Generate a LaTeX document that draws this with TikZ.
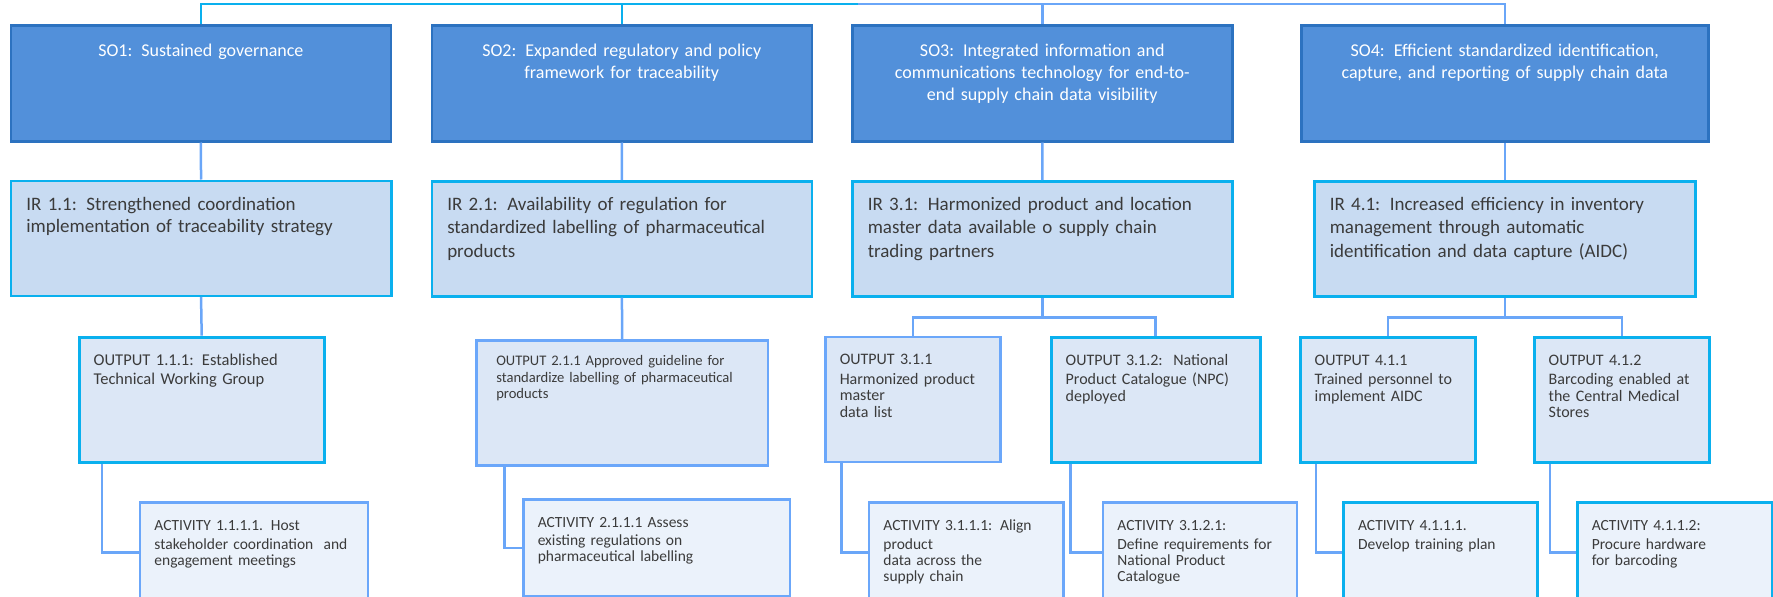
\documentclass[tikz,border=0pt]{standalone}
\usepackage{fontspec}
\setmainfont{Carlito}
\usepackage{tikz}
\usetikzlibrary{arrows.meta, positioning, calc}

\definecolor{sofill}{HTML}{5290DA}
\definecolor{soedge}{HTML}{2C72C0}
\definecolor{irfill}{HTML}{C8DBF2}
\definecolor{outfill}{HTML}{DCE7F6}
\definecolor{actfill}{HTML}{EBF2FB}
\definecolor{cyanedge}{HTML}{0AB0EE}
\definecolor{paleedge}{HTML}{6BA7FA}
\definecolor{linkblue}{HTML}{6AA6F8}
\definecolor{txtgray}{HTML}{3B3B3B}

\begin{document}
\begin{tikzpicture}[x=1pt, y=-1pt,
        sobox/.style={draw=soedge, fill=sofill, line width=2.5pt, text=white, align=center,
            anchor=north west, inner xsep=12pt, inner ysep=0pt, text height=31pt, text depth=85pt,
            font=\fontsize{18}{22}\selectfont},
        irbox/.style={draw=cyanedge, fill=irfill, line width=2.5pt, text=txtgray, align=left,
            anchor=north west, inner xsep=15.5pt, inner ysep=0pt, text height=29.5pt, text depth=85.5pt,
            font=\fontsize{19}{22.5}\selectfont},
        outbox/.style={draw=cyanedge, fill=outfill, line width=3pt, text=txtgray, align=left,
            anchor=north west, inner xsep=14.5pt, inner ysep=0pt, text height=28pt, text depth=97pt,
            font=\fontsize{16}{16.5}\selectfont},
        actbox/.style={draw=paleedge, fill=actfill, line width=2.5pt, text=txtgray, align=left,
            anchor=north west, inner xsep=14.5pt, inner ysep=0pt, text height=28pt, text depth=72pt,
            font=\fontsize{15.5}{16.2}\selectfont},
        link/.style={draw=linkblue, line width=2.5pt}]
    \useasboundingbox (0,0) rectangle (1773,597);
    % strategic objectives
    \node[sobox, text width=356pt] (so1) at (9.6,24) {SO1: Sustained governance};
    \node[sobox, text width=356pt] (so2) at (430.5,24) {SO2: Expanded regulatory and policy\\framework for traceability};
    \node[sobox, text width=356pt] (so3) at (851,24) {SO3: Integrated information and\\communications technology for end-to-\\end supply chain data visibility};
    \node[sobox, text width=383pt] (so4) at (1300,24) {SO4: Efficient standardized identification,\\capture, and reporting of supply chain data};
    % intermediate results
    \node[irbox, text width=349.4pt] (ir1) at (9.6,179.5) {IR 1.1: Strengthened coordination\\implementation of traceability strategy};
    \node[irbox, text width=349.4pt] (ir2) at (430.5,180) {IR 2.1: Availability of regulation for\\standardized labelling of pharmaceutical\\[2pt]products};
    \node[irbox, text width=349.4pt] (ir3) at (851,180) {IR 3.1: Harmonized product and location\\master data available o supply chain\\[2pt]trading partners};
    \node[irbox, text width=350pt] (ir4) at (1313,180) {IR 4.1: Increased efficiency in inventory\\management through automatic\\[2pt]identification and data capture (AIDC)};
    % outputs
    \node[outbox, text width=216pt, font=\fontsize{16.5}{17}\selectfont] (o111) at (77.7,335.7) {OUTPUT 1.1.1: Established\\[2.5pt]Technical Working Group};
    \node[outbox, draw=paleedge, line width=2.5pt, text width=251.7pt, inner xsep=20pt,
        text height=25.5pt, text depth=99.5pt, font=\fontsize{14.6}{16.5}\selectfont] (o211) at (475,339)
        {OUTPUT 2.1.1 Approved guideline for\\standardize labelling of pharmaceutical\\products};
    \node[outbox, draw=paleedge, line width=2.5pt, text width=146.3pt] (o311) at (824,335.7) {OUTPUT 3.1.1\\[3pt]Harmonized product\\master\\data list};
    \node[outbox, text width=180pt] (o312) at (1049.7,335.7) {OUTPUT 3.1.2:\ \ National\\[3pt]Product Catalogue (NPC)\\deployed};
    \node[outbox, text width=146.3pt] (o411) at (1298.7,335.7) {OUTPUT 4.1.1\\[3pt]Trained personnel to\\implement AIDC};
    \node[outbox, text width=146.3pt] (o412) at (1532.7,335.7) {OUTPUT 4.1.2\\[3pt]Barcoding enabled at\\the Central Medical\\Stores};
    % activities
    \node[actbox, text width=199pt] (a1111) at (138.7,501) {ACTIVITY 1.1.1.1. Host\\[3pt]stakeholder coordination\ \ and\\engagement meetings};
    \node[actbox, text width=237.6pt, text height=28pt, text depth=69pt] (a2111) at (522,498) {ACTIVITY 2.1.1.1 Assess\\[2pt]existing regulations on\\pharmaceutical labelling};
    \node[actbox, text width=165.3pt] (a3111) at (867.7,501) {ACTIVITY 3.1.1.1: Align\\[3pt]product\\data across the\\supply chain};
    \node[actbox, text width=165pt] (a3121) at (1101.7,501) {ACTIVITY 3.1.2.1:\\[3pt]Define requirements for\\National Product\\Catalogue};
    \node[actbox, draw=cyanedge, text width=164.7pt] (a4111) at (1342.3,501) {ACTIVITY 4.1.1.1.\\[3pt]Develop training plan};
    \node[actbox, draw=cyanedge, text width=165.7pt] (a4112) at (1576,501) {ACTIVITY 4.1.1.2:\\[3pt]Procure hardware\\for barcoding};
    % top bus
    \coordinate (bus) at (858,4);
    \draw[link, draw=cyanedge] (so1.north) |- (bus);
    \draw[link, draw=cyanedge] (so2.north) -- (so2.north |- bus);
    \draw[link] (bus) -| (so4.north);
    \draw[link] (so3.north) -- (so3.north |- bus);
    % objective to result
    \draw[link] (so1.south) -- (ir1.north);
    \draw[link] (so2.south) -- (ir2.north);
    \draw[link] (so3.south) -- (ir3.north);
    \draw[link] (so4.south) -- (ir4.north);
    % result to output
    \draw[link] (ir1.south) -- (o111.north);
    \draw[link] (ir2.south) -- (o211.north);
    \draw[link] (ir3.south) -- ++(0,20) -| (o311.north);
    \draw[link] (ir3.south) -- ++(0,20) -| (o312.north);
    \draw[link] (ir4.south) -- ++(0,20) -| (o411.north);
    \draw[link] (ir4.south) -- ++(0,20) -| (o412.north);
    % output to activity
    \draw[link] ([xshift=24.3pt]o111.south west) |- (a1111.west);
    \draw[link] ([xshift=29.3pt]o211.south west) |- (a2111.west);
    \draw[link] ([xshift=17.7pt]o311.south west) |- (a3111.west);
    \draw[link] ([xshift=21pt]o312.south west) |- (a3121.west);
    \draw[link] ([xshift=17.3pt]o411.south west) |- (a4111.west);
    \draw[link] ([xshift=17.3pt]o412.south west) |- (a4112.west);
\end{tikzpicture}
\end{document}
